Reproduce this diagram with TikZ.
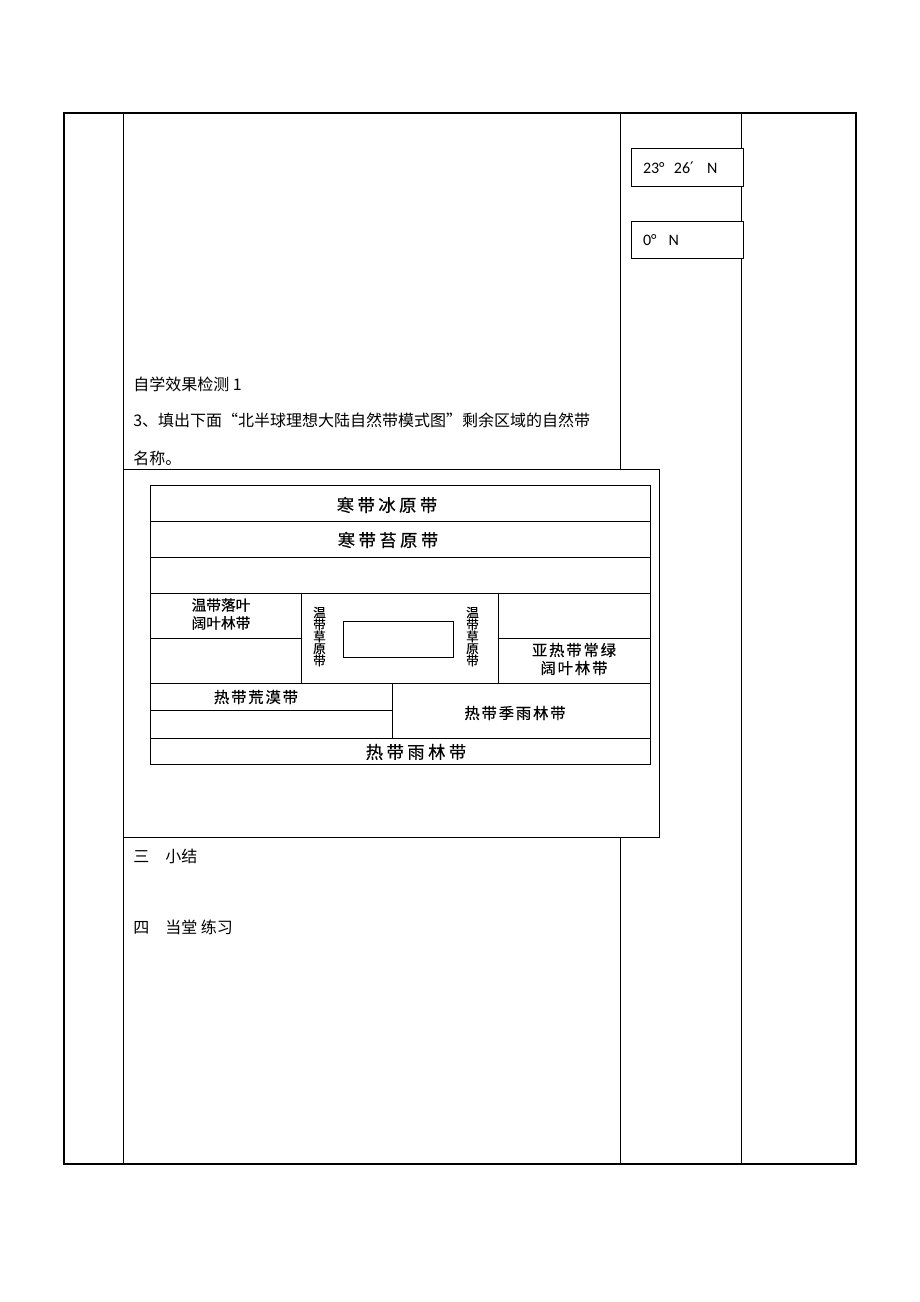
\documentclass[tikz,border=0pt]{standalone}
\usepackage{fontspec}
\setmainfont{Noto Sans CJK SC}
\newfontfamily\latinfont{Carlito}
\newfontfamily\primefont{DejaVu Sans}
\newfontfamily\zonefont[LetterSpace=12,FakeBold=0.4]{Noto Sans CJK SC}
\newfontfamily\bigzonefont[LetterSpace=20,FakeBold=0.4]{Noto Sans CJK SC}
\newfontfamily\tightzonefont[FakeBold=0.4]{Noto Sans CJK SC}
\usetikzlibrary{positioning}

\tikzset{
  tableframe/.style={line width=1.9pt},
  tablerule/.style={line width=0.7pt},
  zoneline/.style={line width=0.75pt},
  bodytext/.style={anchor=west, inner sep=0pt, font=\fontsize{12pt}{14pt}\selectfont},
  latbox/.style={draw, line width=0.75pt, fill=white, minimum width=84pt, minimum height=27.75pt,
                 inner xsep=9pt, text width=66pt, align=left, font=\latinfont\fontsize{12pt}{14pt}\selectfont},
  zone/.style={inner sep=0pt, align=center, font=\zonefont\fontsize{11.5pt}{13.5pt}\selectfont},
  smallzone/.style={inner sep=0pt, align=center, font=\tightzonefont\fontsize{11pt}{13.5pt}\selectfont},
  bigzone/.style={inner sep=0pt, align=center, font=\bigzonefont\fontsize{13pt}{15pt}\selectfont},
  vzone/.style={inner sep=0pt, align=center, text width=10pt, font=\tightzonefont\fontsize{9.5pt}{9pt}\selectfont}
}

\begin{document}
\begin{tikzpicture}[x=0.75pt, y=-0.75pt]
  \useasboundingbox (0,0) rectangle (920,1302);

  % Table frame and columns
  \draw[tableframe] (64,113) rectangle (856,1164);
  \draw[tablerule] (123,113) -- (123,1164);
  \draw[tablerule] (620,113) -- (620,1164);
  \draw[tablerule] (741,113) -- (741,1164);

  % Latitude boxes
  \node[latbox] (tropic) at (687,167.5) {23°\hspace{7pt}26{\primefont ′}\hspace{10pt}N};
  \node[latbox, below=0pt of tropic, yshift=-26pt] (equator) {0°\hspace{9pt}N};

  % Questions
  \node[bodytext] (check) at (133,384) {自学效果检测 1};
  \node[bodytext] (task) at (133,420) {3、填出下面“北半球理想大陆自然带模式图”剩余区域的自然带};
  \node[bodytext] (taskend) at (133,458) {名称。};

  % Diagram frame
  \draw[zoneline, fill=white] (123,469) rectangle (659,837);
  \draw[zoneline] (150,485) rectangle (650,764);

  % Rows
  \draw[zoneline] (150,521) -- (650,521);
  \draw[zoneline] (150,557) -- (650,557);
  \draw[zoneline] (150,593) -- (650,593);
  \draw[zoneline] (150,683) -- (650,683);
  \draw[zoneline] (150,738) -- (650,738);

  % Temperate zone cells
  \draw[zoneline] (301,593) -- (301,683);
  \draw[zoneline] (498,593) -- (498,683);
  \draw[zoneline] (150,638) -- (301,638);
  \draw[zoneline] (498,638) -- (650,638);
  \draw[zoneline] (343,621) rectangle (453,657);

  % Tropical zone cells
  \draw[zoneline] (392,683) -- (392,738);
  \draw[zoneline] (150,710) -- (392,710);

  % Zone names
  \node[bigzone] (ice) at (387,505) {寒带冰原带};
  \node[bigzone] (tundra) at (388,540) {寒带苔原带};
  \node[smallzone] (deciduous) at (221,614) {温带落叶\\阔叶林带};
  \node[zone] (evergreen) at (574,659) {亚热带常绿\\阔叶林带};
  \node[vzone] (steppeW) at (319.5,636.5) {温\\带\\草\\原\\带};
  \node[vzone] (steppeE) at (472.5,636.5) {温\\带\\草\\原\\带};
  \node[zone] (desert) at (256,697) {热带荒漠带};
  \node[zone] (monsoon) at (515,713) {热带季雨林带};
  \node[bigzone] (rainforest) at (416,752) {热带雨林带};

  % Later sections
  \node[bodytext] (summary) at (133,856) {三\quad 小结};
  \node[bodytext] (practice) at (133,927) {四\quad 当堂 练习};

\end{tikzpicture}
\end{document}
